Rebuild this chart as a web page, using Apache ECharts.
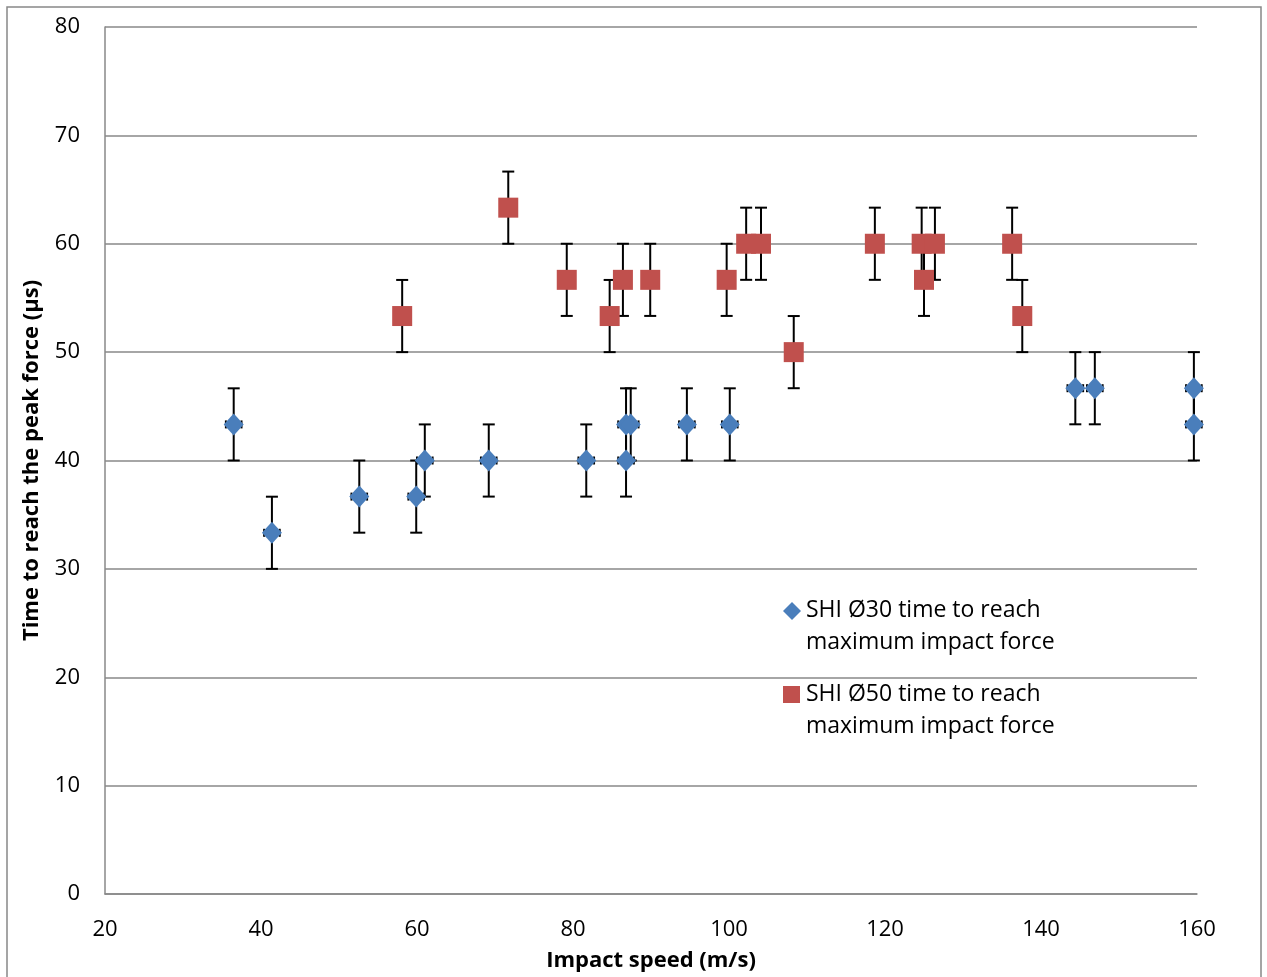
<!DOCTYPE html>
<html>
<head>
<meta charset="utf-8">
<script src="https://cdn.jsdelivr.net/npm/echarts@6/dist/echarts.min.js"></script>
<style>html,body{margin:0;padding:0;background:#fff}#c{width:1267px;height:977px}</style>
</head>
<body>
<div id="c"></div>
<script>
// Data
const speeds30 = [36.5, 41.4, 52.6, 59.9, 61.0, 69.2, 81.7, 86.8, 86.8, 87.4, 94.6, 100.1, 144.4, 146.9, 159.6, 159.6];
const times30  = [43.33, 33.33, 36.67, 36.67, 40, 40, 40, 43.33, 40, 43.33, 43.33, 43.33, 46.67, 46.67, 46.67, 43.33];
const yErr30   = [3.33, 3.33, 3.33, 3.33, 3.33, 3.33, 3.33, 3.33, 3.33, 3.33, 3.33, 3.33, 3.33, 3.33, 3.33, 3.33];
const xErr30   = [1, 1, 1, 1, 1, 1, 1, 1, 1, 1, 1, 1, 1, 1, 1, 1];

const speeds50 = [58.1, 71.7, 79.2, 84.7, 86.4, 89.9, 99.7, 102.2, 104.1, 108.3, 118.7, 124.7, 125.0, 126.4, 136.3, 137.6];
const times50  = [53.33, 63.33, 56.67, 53.33, 56.67, 56.67, 56.67, 60, 60, 50, 60, 60, 56.67, 60, 60, 53.33];
const yErr50   = [3.33, 3.33, 3.33, 3.33, 3.33, 3.33, 3.33, 3.33, 3.33, 3.33, 3.33, 3.33, 3.33, 3.33, 3.33, 3.33];

const seriesNames = ['SHI Ø30 time to reach\nmaximum impact force', 'SHI Ø50 time to reach\nmaximum impact force'];
const xTitle = 'Impact speed (m/s)';
const yTitle = 'Time to reach the peak force (µs)';

const FONT = 'Open Sans';
const chart = echarts.init(document.getElementById('c'), null, {renderer: 'canvas'});

function errData(xs, ys, ye, xe) {
  return xs.map((x, i) => [x, ys[i], ys[i] - ye[i], ys[i] + ye[i], xe ? xe[i] : 0]);
}

function renderErr(params, api) {
  const x = api.value(0), y = api.value(1), lo = api.value(2), hi = api.value(3), xe = api.value(4);
  const pLo = api.coord([x, lo]);
  const pHi = api.coord([x, hi]);
  const cap = 6;
  const style = {stroke: '#000', lineWidth: 2, fill: null};
  const children = [
    {type: 'line', shape: {x1: pLo[0], y1: pLo[1], x2: pHi[0], y2: pHi[1]}, style},
    {type: 'line', shape: {x1: pLo[0] - cap, y1: pLo[1], x2: pLo[0] + cap, y2: pLo[1]}, style},
    {type: 'line', shape: {x1: pHi[0] - cap, y1: pHi[1], x2: pHi[0] + cap, y2: pHi[1]}, style}
  ];
  if (xe) {
    const pl = api.coord([x - xe, y]);
    const pr = api.coord([x + xe, y]);
    const c2 = 4;
    children.push(
      {type: 'line', shape: {x1: pl[0], y1: pl[1], x2: pr[0], y2: pr[1]}, style},
      {type: 'line', shape: {x1: pl[0], y1: pl[1] - c2, x2: pl[0], y2: pl[1] + c2}, style},
      {type: 'line', shape: {x1: pr[0], y1: pr[1] - c2, x2: pr[0], y2: pr[1] + c2}, style}
    );
  }
  return {type: 'group', children};
}

const blue = '#4a7ebb';
const red = '#c0504d';

chart.setOption({
  animation: false,
  backgroundColor: '#fff',
  grid: {left: 105, right: 70, top: 27, bottom: 83, containLabel: false},
  xAxis: {
    type: 'value', min: 20, max: 160, interval: 20,
    name: xTitle, nameLocation: 'middle', nameGap: 56,
    nameTextStyle: {fontFamily: FONT, fontSize: 22, fontWeight: 'bold', color: '#000'},
    axisLine: {show: true, lineStyle: {color: '#888', width: 1.5}},
    axisTick: {show: false},
    axisLabel: {fontFamily: FONT, fontSize: 22, color: '#000', margin: 25},
    splitLine: {show: false}
  },
  yAxis: {
    type: 'value', min: 0, max: 80, interval: 10,
    name: yTitle, nameLocation: 'middle', nameGap: 62,
    nameTextStyle: {fontFamily: FONT, fontSize: 22, fontWeight: 'bold', color: '#000'},
    axisLine: {show: true, lineStyle: {color: '#888', width: 1.5}},
    axisTick: {show: false},
    axisLabel: {fontFamily: FONT, fontSize: 22, color: '#000', margin: 25},
    splitLine: {show: true, lineStyle: {color: '#888', width: 1.5}}
  },
  graphic: [
    {type: 'rect', shape: {x: 7, y: 7, width: 1254, height: 975}, style: {fill: null, stroke: '#888', lineWidth: 1.5}, silent: true, z: -10},
    {type: 'polygon', shape: {points: [[792, 602], [801, 611], [792, 620], [783, 611]]}, style: {fill: blue}},
    {type: 'text', left: 806, top: 594, style: {text: seriesNames[0], fontFamily: FONT, fontSize: 23, lineHeight: 32, fill: '#000'}},
    {type: 'rect', shape: {x: 783, y: 686, width: 17, height: 17}, style: {fill: red}},
    {type: 'text', left: 806, top: 678, style: {text: seriesNames[1], fontFamily: FONT, fontSize: 23, lineHeight: 32, fill: '#000'}}
  ],
  series: [
    {type: 'custom', name: 'err30', renderItem: renderErr, data: errData(speeds30, times30, yErr30, xErr30), z: 1, encode: {x: 0, y: [1, 2, 3]}},
    {type: 'custom', name: 'err50', renderItem: renderErr, data: errData(speeds50, times50, yErr50, null), z: 1, encode: {x: 0, y: [1, 2, 3]}},
    {type: 'scatter', name: seriesNames[0], symbol: 'diamond', symbolSize: [20, 22], itemStyle: {color: blue, opacity: 1}, data: speeds30.map((x, i) => [x, times30[i]]), z: 3},
    {type: 'scatter', name: seriesNames[1], symbol: 'rect', symbolSize: [20, 20], itemStyle: {color: red, opacity: 1}, data: speeds50.map((x, i) => [x, times50[i]]), z: 3}
  ]
});
</script>
</body>
</html>
